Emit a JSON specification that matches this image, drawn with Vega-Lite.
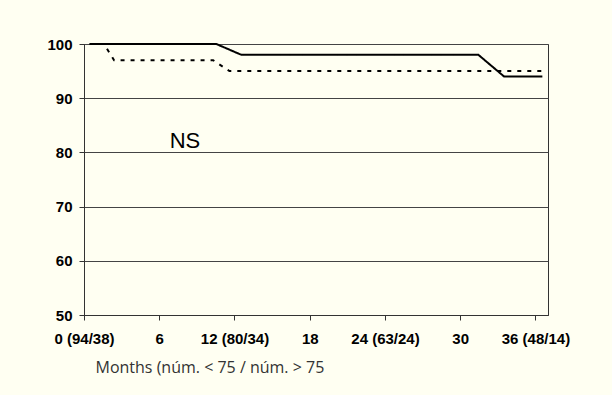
{
  "$schema": "https://vega.github.io/schema/vega-lite/v6.json",
  "autosize": "none",
  "width": 464,
  "height": 271,
  "padding": {"left": 84, "top": 44, "right": 64, "bottom": 80},
  "background": "#FFFFF2",
  "config": {
    "view": {"stroke": "#333333", "strokeWidth": 1, "fill": "#FFFFF2"},
    "axis": {
      "labelFont": "Liberation Sans",
      "labelFontWeight": "bold",
      "labelFontSize": 15,
      "labelColor": "#000000",
      "domainColor": "#333333",
      "tickColor": "#333333",
      "tickSize": 5
    }
  },
  "datasets": {
    "surv": [
      {"month": 0.45, "pct": 100, "group": "< 75"},
      {"month": 10.55, "pct": 100, "group": "< 75"},
      {"month": 12.55, "pct": 98, "group": "< 75"},
      {"month": 31.45, "pct": 98, "group": "< 75"},
      {"month": 33.5, "pct": 94, "group": "< 75"},
      {"month": 36.55, "pct": 94, "group": "< 75"},
      {"month": 0.45, "pct": 100, "group": "> 75"},
      {"month": 1.6, "pct": 100, "group": "> 75"},
      {"month": 2.4, "pct": 97, "group": "> 75"},
      {"month": 10.3, "pct": 97, "group": "> 75"},
      {"month": 11.6, "pct": 95, "group": "> 75"},
      {"month": 36.55, "pct": 95, "group": "> 75"}
    ],
    "note": [
      {"month": 8.05, "pct": 80.9, "text": "NS"}
    ]
  },
  "layer": [
    {
      "data": {"name": "surv"},
      "mark": {"type": "line", "strokeWidth": 2, "color": "#000000", "clip": false},
      "encoding": {
        "x": {
          "field": "month",
          "type": "quantitative",
          "scale": {"domain": [0, 37], "nice": false, "zero": false},
          "axis": {
            "values": [0, 6, 12, 18, 24, 30, 36],
            "labelExpr": "datum.value == 0 ? '0 (94/38)' : datum.value == 12 ? '12 (80/34)' : datum.value == 24 ? '24 (63/24)' : datum.value == 36 ? '36 (48/14)' : datum.label",
            "labelPadding": 11,
            "labelDx": 6,
            "labelFlush": false,
            "labelOverlap": false,
            "grid": false,
            "title": "Months (núm. < 75 / núm. > 75",
            "titleFont": "Open Sans",
            "titleFontWeight": "normal",
            "titleFontSize": 16,
            "titleColor": "#333333",
            "titleAnchor": "start",
            "titleAlign": "left",
            "titleX": 11,
            "titleY": 57,
            "titleBaseline": "alphabetic"
          }
        },
        "y": {
          "field": "pct",
          "type": "quantitative",
          "scale": {"domain": [50, 100], "nice": false, "zero": false},
          "axis": {
            "values": [50, 60, 70, 80, 90, 100],
            "grid": true,
            "gridColor": "#444444",
            "gridWidth": 1,
            "gridOpacity": 1,
            "labelPadding": 7,
            "title": null
          }
        },
        "strokeDash": {
          "field": "group",
          "type": "nominal",
          "scale": {"domain": ["< 75", "> 75"], "range": [[1, 0], [4, 6]]},
          "legend": null
        }
      }
    },
    {
      "data": {"name": "note"},
      "mark": {"type": "text", "font": "Liberation Sans", "fontSize": 22, "baseline": "alphabetic", "align": "center", "color": "#000000"},
      "encoding": {
        "x": {"field": "month", "type": "quantitative"},
        "y": {"field": "pct", "type": "quantitative"},
        "text": {"field": "text"}
      }
    }
  ]
}
